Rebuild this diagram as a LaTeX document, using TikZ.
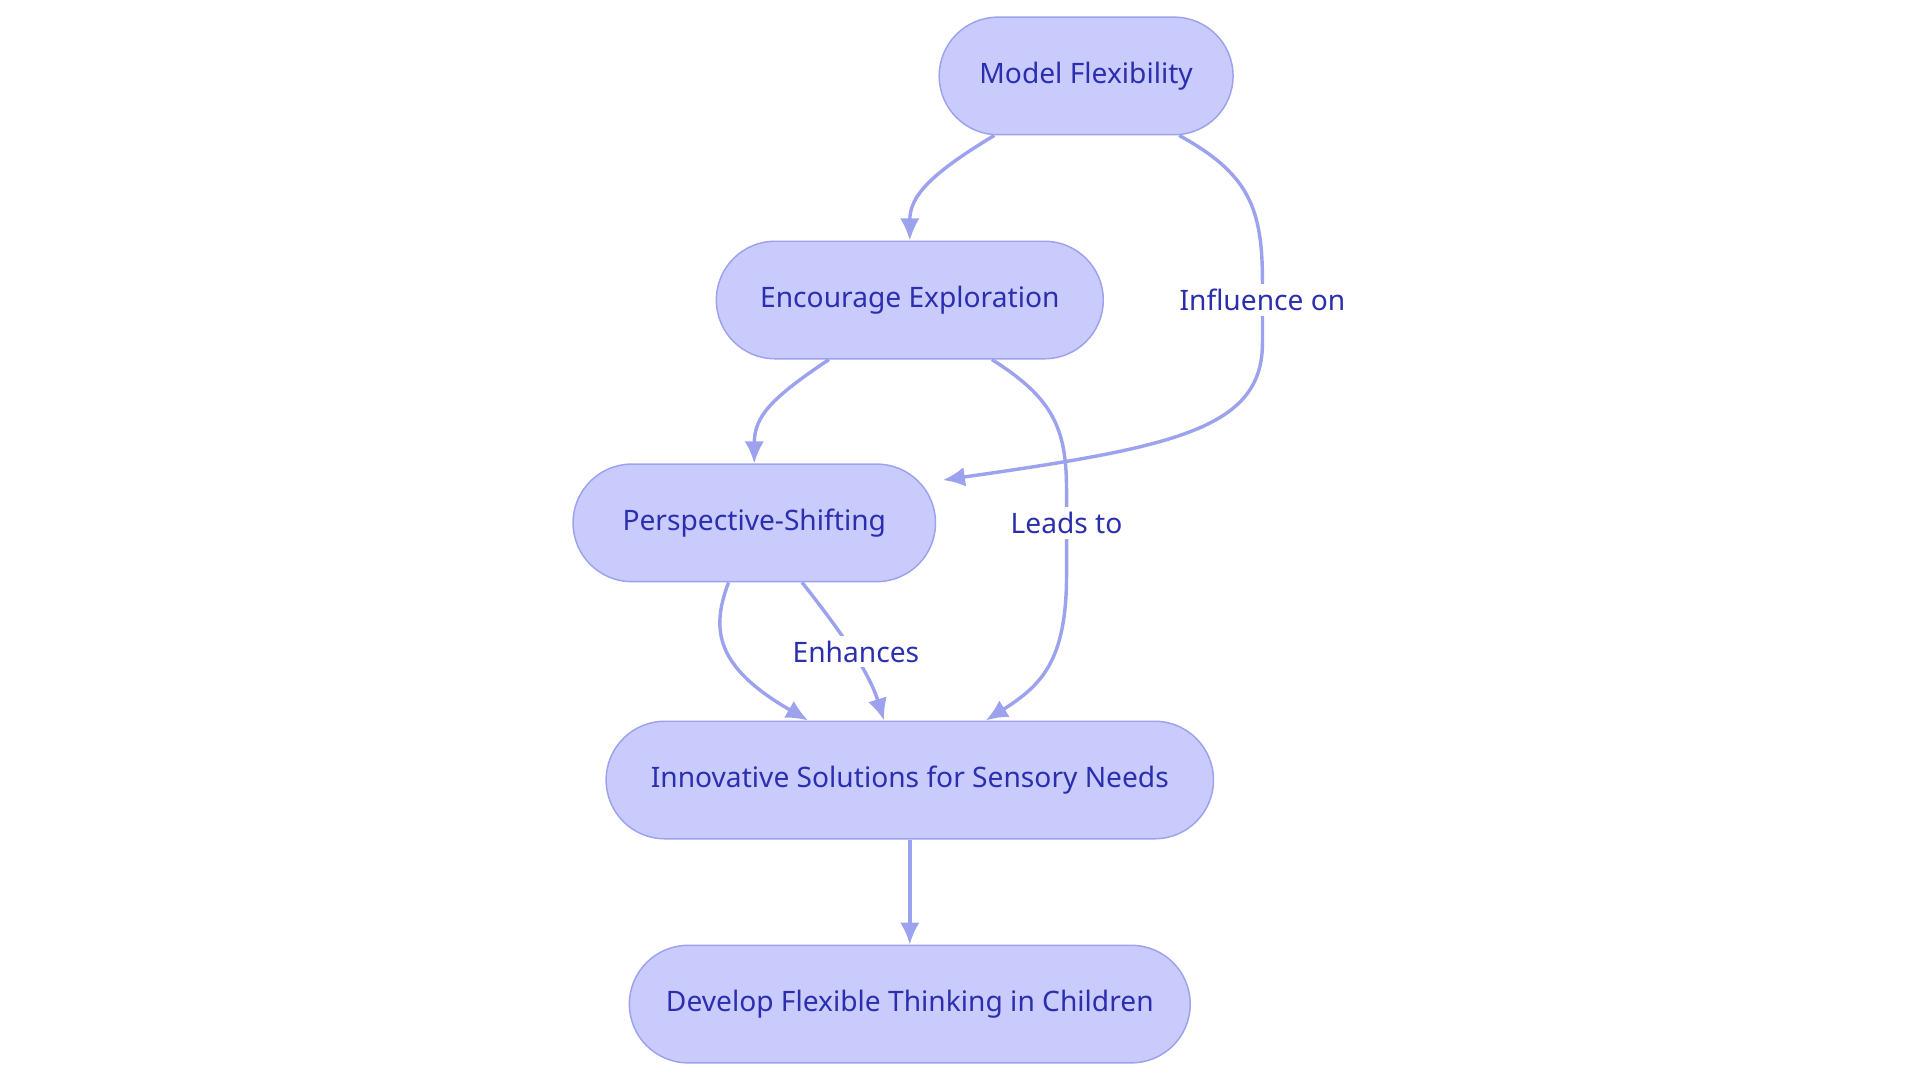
\documentclass[tikz,border=0pt]{standalone}
\usepackage{fontspec}
\setmainfont{Noto Sans}
\usetikzlibrary{arrows.meta, positioning, calc}
\definecolor{boxfill}{HTML}{C9CBFD}
\definecolor{boxline}{HTML}{9DA2EE}
\definecolor{boxtext}{HTML}{2B2FAE}

\begin{document}
\begin{tikzpicture}[
    x=0.5pt, y=-0.5pt,
    stage/.style={rectangle, rounded corners=24pt, draw=boxline, fill=boxfill, line width=0.6pt, minimum height=48pt, align=center, font=\fontsize{11.5}{14}\selectfont, text=boxtext},
    link/.style={-{Latex[length=9pt,width=8pt]}, line width=1.4pt, boxline},
    tag/.style={fill=white, font=\fontsize{11.5}{14}\selectfont, text=boxtext, inner sep=2pt}
]
\useasboundingbox (0,0) rectangle (1568,880);

% Stages
\node[stage, minimum width=120pt] (model) at (887,62) {Model Flexibility};
\node[stage, minimum width=158pt] (explore) at (743,245) {Encourage Exploration};
\node[stage, minimum width=148pt] (shift) at (616,427) {Perspective-Shifting};
\node[stage, minimum width=248pt] (solve) at (743,637) {Innovative Solutions for Sensory Needs};
\node[stage, minimum width=229pt] (develop) at (743,820) {Develop Flexible Thinking in Children};

% Connectors
\draw[link] (model.south -| 812,0) .. controls (760,142) and (743,160) .. (explore.north);
\draw[link] (model.south -| 963,0) .. controls (1020,142) and (1031,170) .. (1031,230)
    -- (1031,280) .. controls (1031,350) and (960,365) .. (770,392);
\node[tag] (influence) at (1031,245) {Influence on};
\draw[link] (explore.south -| 677,0) .. controls (630,325) and (616,340) .. (shift.north);
\draw[link] (explore.south -| 810,0) .. controls (860,325) and (871,350) .. (871,400)
    -- (871,470) .. controls (871,540) and (850,560) .. (solve.north -| 805,0);
\node[tag] (leads) at (871,427) {Leads to};
\draw[link] (shift.south -| 595,0) .. controls (580,515) and (585,545) .. (solve.north -| 660,0);
\draw[link] (shift.south -| 655,0) .. controls (690,520) and (710,550) .. (solve.north -| 722,0);
\node[tag] (enhance) at (699,532) {Enhances};
\draw[link] (solve) -- (develop);
\end{tikzpicture}
\end{document}
